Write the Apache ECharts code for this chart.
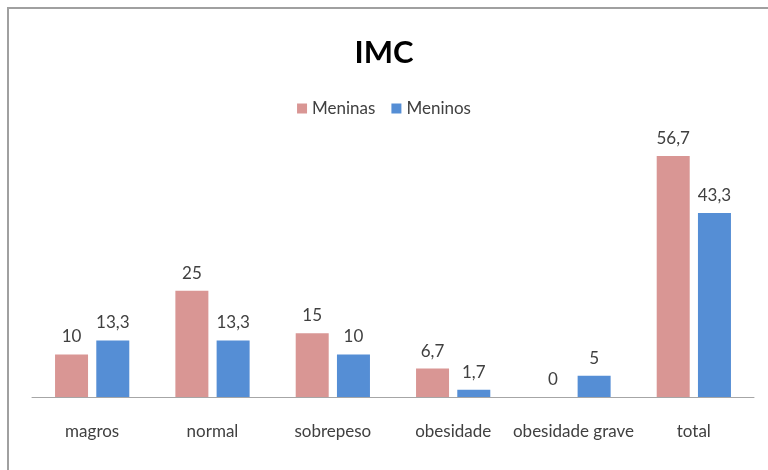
<!DOCTYPE html>
<html>
<head>
<meta charset="utf-8">
<script src="https://cdn.jsdelivr.net/npm/echarts@6/dist/echarts.min.js"></script>
<style>
  html, body { margin: 0; padding: 0; background: #fff; }
  #frame { position: absolute; left: 7px; top: 7px; width: 761px; height: 463px;
           border-left: 2px solid #a0a0a0; border-top: 2px solid #a0a0a0; box-sizing: border-box; }
  #chart { position: absolute; left: 0; top: 0; width: 768px; height: 470px; }
</style>
</head>
<body>
<div id="frame"></div>
<div id="chart"></div>
<script>
var categories = ['magros', 'normal', 'sobrepeso', 'obesidade', 'obesidade grave', 'total'];
var meninas = [10, 25, 15, 6.7, 0, 56.7];
var meninos = [13.3, 13.3, 10, 1.7, 5, 43.3];

var font = 'Lato, "Open Sans", sans-serif';

function comma(p) {
	return String(p.value).replace('.', ',');
}

var chart = echarts.init(document.getElementById('chart'));

var option = {
	textStyle: { fontFamily: font },
	title: {
		text: 'IMC',
		left: 'center',
		top: 32,
		textStyle: { fontFamily: font, fontSize: 31, fontWeight: 'bold', color: '#000' }
	},
	legend: {
		top: 95,
		left: 'center',
		itemWidth: 10,
		itemHeight: 10,
		itemGap: 16,
		icon: 'rect',
		textStyle: { fontFamily: font, fontSize: 17, color: '#404040' },
		data: ['Meninas', 'Meninos']
	},
	grid: { left: 32, right: 14, top: 142, bottom: 73 },
	xAxis: {
		type: 'category',
		data: categories,
		axisTick: { show: false },
		axisLine: { lineStyle: { color: '#a6a6a6', width: 1 } },
		axisLabel: { margin: 26, fontSize: 17, color: '#404040', fontFamily: font, interval: 0 }
	},
	yAxis: {
		type: 'value',
		min: 0,
		max: 60,
		show: false,
		splitLine: { show: false }
	},
	series: [
		{
			name: 'Meninas',
			type: 'bar',
			data: meninas,
			barWidth: 33,
			barGap: '25%',
			itemStyle: { color: '#d99694' },
			label: { show: true, position: 'top', distance: 9, fontSize: 17, color: '#404040', fontFamily: font, formatter: comma }
		},
		{
			name: 'Meninos',
			type: 'bar',
			data: meninos,
			barWidth: 33,
			itemStyle: { color: '#558ed5' },
			label: { show: true, position: 'top', distance: 9, fontSize: 17, color: '#404040', fontFamily: font, formatter: comma }
		}
	]
};

chart.setOption(option);
</script>
</body>
</html>
